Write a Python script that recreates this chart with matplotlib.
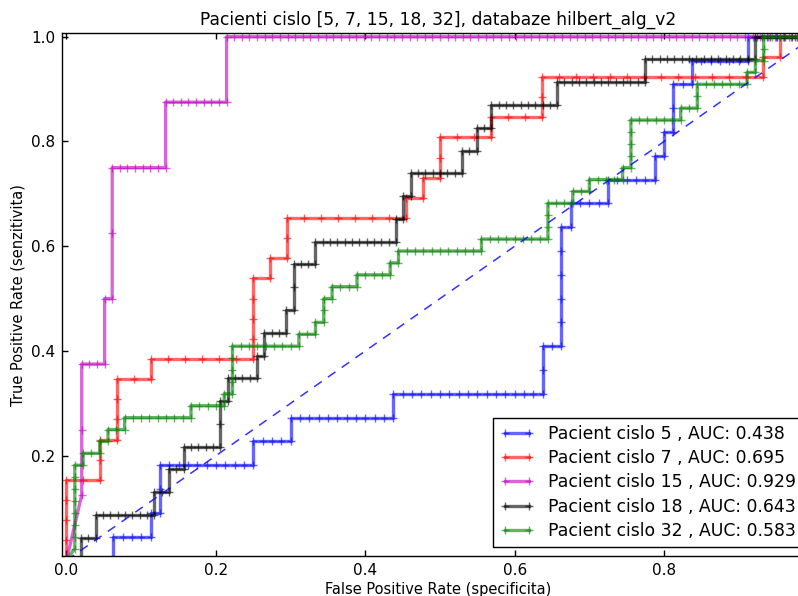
import matplotlib
matplotlib.use('Agg')
import matplotlib.pyplot as plt
import numpy as np

# ---------------- data ----------------
patients = [5, 7, 15, 18, 32]
auc_values = [0.438, 0.695, 0.929, 0.643, 0.583]
colors = ['b', 'r', 'm', 'k', 'g']
n_neg = [80, 44, 98, 102, 90]   # negatives per patient (fpr denominator)
n_pos = [22, 26, 8, 23, 44]     # positives per patient (tpr denominator)

# ROC corner points in counts (false positives, true positives)
p5_fp = [0, 5, 5, 9, 9, 10, 10, 20, 20, 24, 24, 35, 35, 51, 51, 53, 53, 54, 54, 58, 58, 63, 63, 64, 64, 65, 65, 67, 67, 73, 73, 80]
p5_tp = [0, 0, 1, 1, 2, 2, 4, 4, 5, 5, 6, 6, 7, 7, 9, 9, 14, 14, 15, 15, 16, 16, 17, 17, 18, 18, 20, 20, 21, 21, 22, 22]

p7_fp = [0, 0, 2, 2, 3, 3, 5, 5, 11, 11, 12, 12, 13, 13, 20, 20, 21, 21, 22, 22, 25, 25, 28, 28, 41, 41, 42, 42, 44]
p7_tp = [0, 4, 4, 6, 6, 9, 9, 10, 10, 14, 14, 15, 15, 17, 17, 18, 18, 19, 19, 21, 21, 22, 22, 24, 24, 25, 25, 26, 26]

p15_fp = [0, 2, 2, 5, 5, 6, 6, 13, 13, 21, 21, 98]
p15_tp = [0, 1, 3, 3, 4, 4, 6, 6, 7, 7, 8, 8]

p18_fp = [0, 2, 2, 4, 4, 12, 12, 14, 14, 16, 16, 21, 21, 22, 22, 26, 26, 27, 27, 30, 30, 31, 31, 34, 34, 45, 45, 46, 46, 47, 47, 54, 54, 56, 56, 58, 58, 67, 67, 79, 79, 94, 94, 102]
p18_tp = [0, 0, 1, 1, 2, 2, 3, 3, 4, 4, 5, 5, 7, 7, 8, 8, 9, 9, 10, 10, 11, 11, 13, 13, 14, 14, 15, 15, 16, 16, 17, 17, 18, 18, 19, 19, 20, 20, 21, 21, 22, 22, 23, 23]

p32_fp = [0, 1, 1, 2, 2, 4, 4, 5, 5, 7, 7, 15, 15, 19, 19, 20, 20, 28, 28, 30, 30, 31, 31, 32, 32, 35, 35, 39, 39, 40, 40, 50, 50, 58, 58, 61, 61, 63, 63, 67, 67, 68, 68, 74, 74, 76, 76, 82, 82, 83, 83, 84, 84, 90]
p32_tp = [0, 1, 8, 8, 9, 9, 10, 10, 11, 11, 12, 12, 13, 13, 14, 14, 18, 18, 19, 19, 20, 20, 22, 22, 23, 23, 24, 24, 25, 25, 26, 26, 27, 27, 30, 30, 31, 31, 32, 32, 33, 33, 37, 37, 38, 38, 40, 40, 41, 41, 42, 42, 44, 44]

fp_lists = [p5_fp, p7_fp, p15_fp, p18_fp, p32_fp]
tp_lists = [p5_tp, p7_tp, p15_tp, p18_tp, p32_tp]

title_text = 'Pacienti cislo [5, 7, 15, 18, 32], databaze hilbert_alg_v2'
x_label = 'False Positive Rate (specificita)'
y_label = 'True Positive Rate (senzitivita)'
x_ticks = [0.0, 0.2, 0.4, 0.6, 0.8]
y_ticks = [0.2, 0.4, 0.6, 0.8, 1.0]


def roc_points(fp, tp, N, P):
    """One ROC point per sample: unit steps along runs, ties as one diagonal step."""
    xs, ys = [fp[0]], [tp[0]]
    for x0, y0, x1, y1 in zip(fp[:-1], tp[:-1], fp[1:], tp[1:]):
        if x0 == x1:
            for y in range(y0 + 1, y1 + 1):
                xs.append(x1); ys.append(y)
        elif y0 == y1:
            for x in range(x0 + 1, x1 + 1):
                xs.append(x); ys.append(y1)
        else:
            xs.append(x1); ys.append(y1)
    return np.array(xs) / N, np.array(ys) / P


plt.rcParams['font.family'] = ['DejaVu Sans']

fig = plt.figure(figsize=(7.98, 5.96), dpi=100)
fig.patch.set_facecolor('white')
W, H = 798.0, 596.0
ax_left, ax_right = 62.0, 813.5
ax_bottom, ax_top = 556.0, 33.3
ax = fig.add_axes([ax_left / W, (H - ax_bottom) / H,
                   (ax_right - ax_left) / W, (ax_bottom - ax_top) / H])

for i in range(len(patients)):
    fpr, tpr = roc_points(fp_lists[i], tp_lists[i], n_neg[i], n_pos[i])
    ax.plot(fpr, tpr, color=colors[i], marker='+', lw=2.4, alpha=0.6,
            ms=6, mew=1.0,
            label='Pacient cislo %d , AUC: %.3f' % (patients[i], auc_values[i]))

ax.plot([0, 1], [0, 1], color='b', ls='--', lw=1.1, dashes=(6, 5), alpha=0.8)

ax.set_xlim(-0.006, 1.0)
ax.set_ylim(0.0085, 1.0065)
ax.set_xticks(x_ticks)
ax.set_yticks(y_ticks)
ax.tick_params(direction='in', top=True, right=True, length=4, width=1,
               labelsize=11, pad=5, colors='black')
for s in ax.spines.values():
    s.set_linewidth(1.0)
    s.set_color('black')

ax.set_title(title_text, fontsize=12.3, pad=6)
ax.set_xlabel(x_label, fontsize=10.5, labelpad=3)
ax.set_ylabel(y_label, fontsize=10.5, labelpad=4)

ax_w = ax_right - ax_left
ax_h = ax_bottom - ax_top
leg = ax.legend(loc='lower right', numpoints=2, fancybox=False, framealpha=1,
                edgecolor='black', fontsize=12.4, handlelength=2.0,
                labelspacing=0.37, borderaxespad=0.0,
                bbox_to_anchor=((803 - ax_left) / ax_w, (ax_bottom - 547) / ax_h))
leg.get_frame().set_linewidth(1.0)

fig.savefig('out.png', dpi=100, facecolor='white')
